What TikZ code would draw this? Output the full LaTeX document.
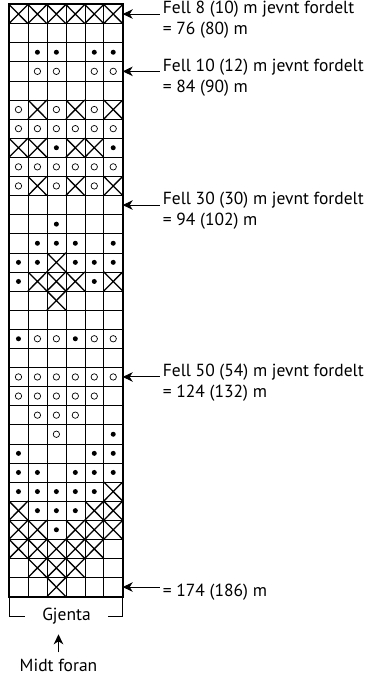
\documentclass[tikz,border=0pt]{standalone}
\usepackage{fontspec}
\setmainfont{PT Sans}
\usetikzlibrary{arrows.meta,positioning}

\tikzset{
    cellx/.pic={\draw[line width=1.3pt] (-0.5,-0.5) -- (0.5,0.5) (-0.5,0.5) -- (0.5,-0.5);},
    celld/.pic={\fill (0,0) circle[radius=2.5pt];},
    cello/.pic={\draw[line width=0.7pt] (0,0) circle[radius=3.2pt];},
    celln/.pic={\path (0,0);},
    lab/.style={font=\fontsize{17.5}{21}\selectfont, align=left, inner xsep=3pt, inner ysep=0pt},
    arr/.style={-{Stealth[length=10pt,width=9.5pt,inset=3pt]}, line width=1pt},
}

\begin{document}
\begin{tikzpicture}[x=1pt, y=-1pt]
    \useasboundingbox (0,0) rectangle (370,676);

    % Chart
    \begin{scope}[shift={(9,4.5)}, x=18.95pt, y=-19.1pt]
        \foreach \row [count=\r] in {
            {x,x,x,x,x,x}, {n,n,n,n,n,n}, {n,d,d,n,d,d}, {n,o,o,n,o,o},
            {n,n,n,n,n,n}, {o,x,o,x,o,x}, {o,o,o,o,o,o}, {x,x,d,x,x,d},
            {o,o,o,o,o,o}, {o,x,o,x,o,x}, {n,n,n,n,n,n}, {n,n,d,n,n,n},
            {n,d,d,d,n,d}, {d,d,x,d,d,d}, {d,x,x,x,d,x}, {n,n,x,n,n,n},
            {n,n,n,n,n,n}, {d,o,o,d,o,o}, {n,n,n,n,n,n}, {o,o,o,o,o,o},
            {o,o,o,o,o,n}, {n,o,o,o,n,n}, {n,n,o,n,n,d}, {d,n,n,n,d,d},
            {d,d,n,d,d,d}, {d,d,d,d,d,x}, {x,d,d,d,x,x}, {x,x,d,x,x,x},
            {x,x,x,x,x,n}, {n,x,x,x,n,n}, {n,n,x,n,n,n}}
            \foreach \s [count=\c] in \row
                \pic at (\c-0.5,\r-0.5) {cell\s};
        \foreach \i in {1,...,5}
            \draw[line width=0.6pt] (\i,0) -- (\i,31);
        \foreach \j in {1,...,30}
            \draw[line width=0.6pt] (0,\j) -- (6,\j);
        \draw[line width=2pt] (0,0) rectangle (6,31);

        \coordinate (row1) at (6,0.5);
        \coordinate (row4) at (6,3.5);
        \coordinate (row11) at (6,10.5);
        \coordinate (row20) at (6,19.5);
        \coordinate (row31) at (6,30.5);
        \coordinate (sw) at (0,31);
        \coordinate (se) at (6,31);
    \end{scope}

    % Decreases
    \node[lab, right=37pt of row1, yshift=-6pt] (fell1) {Fell 8 (10) m jevnt fordelt\\= 76 (80) m};
    \node[lab, right=37pt of row4, yshift=-6pt] (fell2) {Fell 10 (12) m jevnt fordelt\\= 84 (90) m};
    \node[lab, right=37pt of row11, yshift=-6pt] (fell3) {Fell 30 (30) m jevnt fordelt\\= 94 (102) m};
    \node[lab, right=37pt of row20, yshift=-6pt] (fell4) {Fell 50 (54) m jevnt fordelt\\= 124 (132) m};
    \node[lab, right=37pt of row31, yshift=-5pt] (cast) {= 174 (186) m};

    \draw[arr] (fell1.west |- row1) -- (row1);
    \draw[arr] (fell2.west |- row4) -- (row4);
    \draw[arr] (fell3.west |- row11) -- (row11);
    \draw[arr] (fell4.west |- row20) -- (row20);
    \draw[arr] (cast.west |- row31) -- (row31);

    % Repeat
    \node[lab, inner xsep=17pt] (gjenta) at (66.5,616) {Gjenta};
    \draw[line width=0.9pt] (sw) |- (gjenta);
    \draw[line width=0.9pt] (se) |- (gjenta);

    \node[lab, below=35pt of gjenta, xshift=-8pt] (midt) {Midt foran};
    \draw[arr, shorten <=7pt, shorten >=10pt] (midt) -- (midt |- gjenta.south);

\end{tikzpicture}
\end{document}
